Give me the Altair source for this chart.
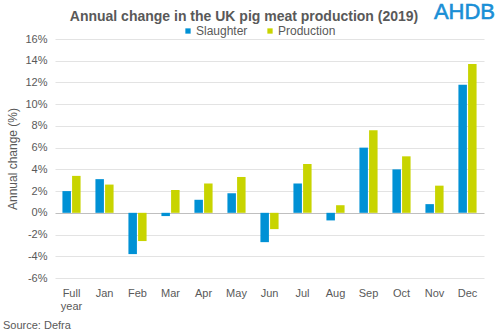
import altair as alt
import pandas as pd

categories = ["Full year", "Jan", "Feb", "Mar", "Apr", "May", "Jun",
              "Jul", "Aug", "Sep", "Oct", "Nov", "Dec"]
slaughter = [2.0, 3.1, -3.8, -0.3, 1.2, 1.8, -2.7, 2.7, -0.7, 6.0, 4.0, 0.8, 11.8]
production = [3.4, 2.6, -2.6, 2.1, 2.7, 3.3, -1.5, 4.5, 0.7, 7.6, 5.2, 2.5, 13.7]
series = ["Slaughter", "Production"]
colors = ["#0091D5", "#C8D400"]
y_ticks = [-6, -4, -2, 0, 2, 4, 6, 8, 10, 12, 14, 16]

rows = []
for i, c in enumerate(categories):
    rows.append({"month": c, "series": "Slaughter", "value": slaughter[i]})
    rows.append({"month": c, "series": "Production", "value": production[i]})
df = pd.DataFrame(rows)

FONT = "Liberation Sans"
GREY = "#595959"

bars = alt.Chart(df).mark_bar().encode(
    x=alt.X("month:N", sort=categories,
            scale=alt.Scale(paddingInner=0.45, paddingOuter=0.225),
            axis=alt.Axis(title=None, labelAngle=0, domain=False, ticks=False,
                          labelPadding=9, labelFont=FONT, labelFontSize=11,
                          labelColor=GREY,
                          labelExpr="datum.label == 'Full year' ? ['Full', 'year'] : datum.label")),
    xOffset=alt.XOffset("series:N", sort=series, scale=alt.Scale(paddingInner=0.12)),
    y=alt.Y("value:Q", scale=alt.Scale(domain=[-6, 16], nice=False),
            axis=alt.Axis(values=y_ticks, labelExpr="datum.value + '%'",
                          labelOverlap=False,
                          title="Annual change (%)", titleFont=FONT, titleFontSize=12,
                          titleFontWeight="normal", titleColor=GREY, titlePadding=5,
                          labelFont=FONT, labelFontSize=11, labelColor=GREY,
                          labelPadding=8, domain=False, ticks=False,
                          grid=True,
                          gridColor=alt.condition("datum.value === 0",
                                                  alt.value("#BFBFBF"),
                                                  alt.value("#E3E3E3")))),
    color=alt.Color("series:N", sort=series,
                    scale=alt.Scale(domain=series, range=colors),
                    legend=alt.Legend(title=None, orient="none", direction="horizontal",
                                      legendX=127, legendY=-14, symbolType="square",
                                      symbolSize=28, labelFont=FONT, labelFontSize=12,
                                      labelColor=GREY, columnPadding=16, labelOffset=2)),
)

title = alt.Chart(pd.DataFrame({"t": ["Annual change in the UK pig meat production (2019)"]})).mark_text(
    align="center", baseline="alphabetic", font=FONT, fontSize=14, fontWeight="bold", color=GREY
).encode(text="t:N", x=alt.value(189), y=alt.value(-18))

source = alt.Chart(pd.DataFrame({"t": ["Source: Defra"]})).mark_text(
    align="left", baseline="alphabetic", font=FONT, fontSize=11, color=GREY
).encode(text="t:N", x=alt.value(-52), y=alt.value(290))

logo = alt.Chart(pd.DataFrame({"t": ["AHDB"]})).mark_text(
    align="right", baseline="alphabetic", font=FONT, fontSize=22,
    color="#1A8FD6", stroke="#1A8FD6", strokeWidth=0.6
).encode(text="t:N", x=alt.value(440), y=alt.value(-20))

chart = alt.layer(bars, title, source, logo).properties(
    width=429, height=239,
    autosize=alt.AutoSizeParams(type="none"),
    padding={"left": 55, "top": 39, "right": 16, "bottom": 56},
).configure_view(stroke=None).configure_axis(labelOverlap=False)

chart.save("out.html", embed_options={"renderer": "svg", "actions": False})
